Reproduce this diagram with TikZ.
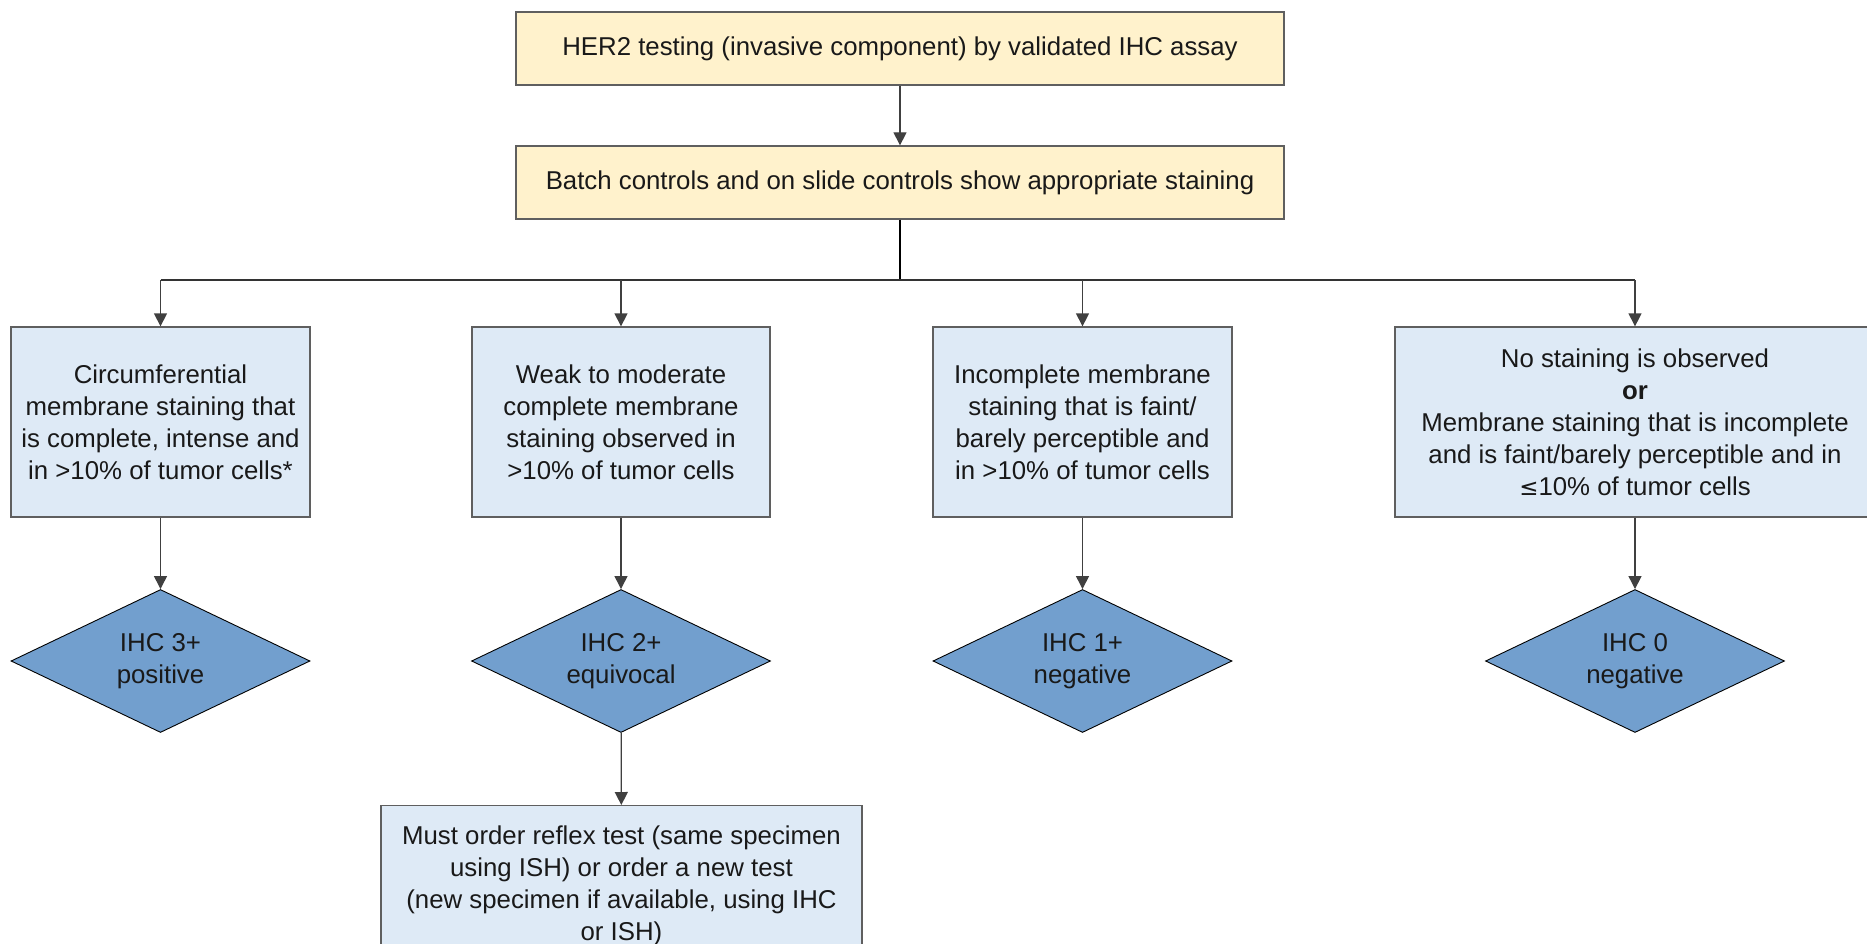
\documentclass[tikz,border=0pt]{standalone}
\usepackage{fontspec}
\setmainfont{Liberation Sans}
\usetikzlibrary{shapes.geometric,arrows.meta}
\definecolor{ylw}{HTML}{FFF2CC}
\definecolor{lblue}{HTML}{DEEAF6}
\definecolor{dblue}{HTML}{729FCE}
\definecolor{bord}{HTML}{5F5F5F}
\tikzset{
  txt/.style={font=\fontsize{25.8}{32}\selectfont, align=center, text=black!90},
  ybox/.style={txt, draw=bord, line width=1.3pt, fill=ylw, minimum width=768pt, minimum height=73pt, inner sep=0pt},
  bbox/.style={txt, draw=bord, line width=1.3pt, fill=lblue, minimum height=190pt, inner sep=0pt},
  dia/.style={txt, diamond, draw=black, line width=0.9pt, fill=dblue, minimum width=299pt, minimum height=143pt, aspect=2.09, inner sep=0pt},
  conn/.style={draw=black!75, line width=1.3pt, -{Triangle[length=13pt,width=13pt]}},
  trunk/.style={draw=black, line width=2pt},
}
\begin{document}
\begin{tikzpicture}[x=1pt,y=-1pt]
\useasboundingbox (0,0) rectangle (1867,944);
\clip (0,0) rectangle (1867,944);
\node[ybox] (top) at (900,48.5) {HER2 testing (invasive component) by validated IHC assay};
\node[ybox] (ctl) at (900,182.5) {Batch controls and on slide controls show appropriate staining};
\node[bbox, minimum width=299pt] (a) at (160.5,422) {Circumferential\\membrane staining that\\is complete, intense and\\in >10\% of tumor cells*};
\node[bbox, minimum width=298pt] (b) at (621,422) {Weak to moderate\\complete membrane\\staining observed in\\>10\% of tumor cells};
\node[bbox, minimum width=299pt] (c) at (1082.5,422) {Incomplete membrane\\staining that is faint/\\barely perceptible and\\in >10\% of tumor cells};
\node[bbox, minimum width=480pt] (d) at (1635,422) {No staining is observed\\\textbf{or}\\Membrane staining that is incomplete\\and is faint/barely perceptible and in\\{\fontspec{DejaVu Sans}\fontsize{23}{32}\selectfont ≤}10\% of tumor cells};
\node[dia] (da) at (160.5,661) {IHC 3+\\positive};
\node[dia] (db) at (621,661) {IHC 2+\\equivocal};
\node[dia] (dc) at (1082.5,661) {IHC 1+\\negative};
\node[dia] (dd) at (1635,661) {IHC 0\\negative};
\node[bbox, minimum width=481pt, minimum height=160pt, anchor=north] (e) at (621.5,805) {Must order reflex test (same specimen\\using ISH) or order a new test\\(new specimen if available, using IHC\\or ISH)};
\coordinate (j) at (900,280);
\draw[conn] (top) -- (ctl);
\draw[trunk] (ctl) -- (j);
\draw[draw=black!80, line width=1.3pt] (a.north |- j) -- (dd.north |- j);
\foreach \n in {a,b,c,d} \draw[conn] (\n.north |- j) -- (\n.north);
\draw[conn] (a) -- (da);
\draw[conn] (b) -- (db);
\draw[conn] (c) -- (dc);
\draw[conn] (d) -- (dd);
\draw[conn] (db) -- (e);
\end{tikzpicture}
\end{document}
